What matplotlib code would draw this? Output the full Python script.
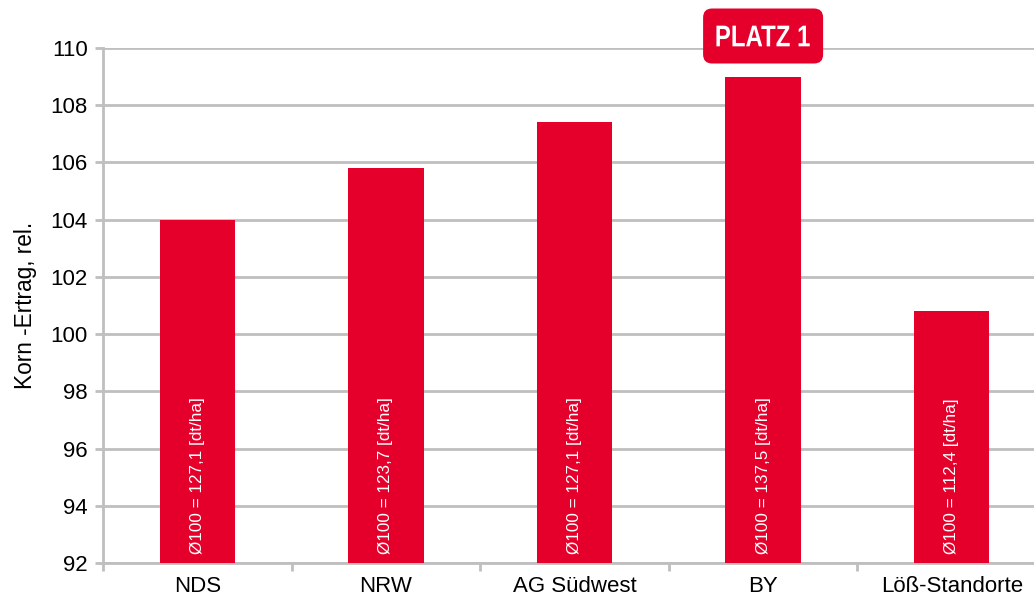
import matplotlib.pyplot as plt
from matplotlib.patches import FancyBboxPatch, PathPatch
from matplotlib.textpath import TextPath
from matplotlib.font_manager import FontProperties
from matplotlib.transforms import Affine2D, IdentityTransform

plt.rcParams['font.family'] = ['Liberation Sans', 'DejaVu Sans']

regions = ['NDS', 'NRW', 'AG Südwest', 'BY', 'Löß-Standorte']
yield_rel = [104.0, 105.8, 107.4, 109.0, 100.8]
yield_abs = ['127,1', '123,7', '127,1', '137,5', '112,4']
y_ticks = list(range(92, 111, 2))

RED = '#E4002B'
GRID = '#BFBFBF'

fig = plt.figure(figsize=(10.34, 5.95), dpi=100)
ax = fig.add_axes([103 / 1034, 32 / 595, 943 / 1034, 515 / 595])

x = list(range(len(regions)))
ax.bar(x, [v - 92 for v in yield_rel], bottom=92, width=0.4, color=RED, zorder=3)

for xi, a in zip(x, yield_abs):
    ax.text(xi, 92.3, f'Ø100 = {a} [dt/ha]', rotation=90, color='white',
            ha='center', va='bottom', fontsize=12.3, zorder=4)

ax.set_ylim(92, 110)
ax.set_xlim(-0.5, len(regions) - 0.5)
ax.set_yticks(y_ticks)
ax.set_yticklabels([str(t) for t in y_ticks], fontsize=16)
ax.yaxis.grid(True, color=GRID, linewidth=2, zorder=0)

ax.set_xticks(x)
ax.set_xticklabels(regions, fontsize=16)
ax.tick_params(axis='x', length=0, pad=9)
ax.set_xticks([i - 0.5 for i in range(len(regions) + 1)], minor=True)
ax.tick_params(axis='x', which='minor', length=6, width=2, color=GRID)
ax.tick_params(axis='y', length=6, width=2, color=GRID, pad=5)

for s in ['top', 'right']:
    ax.spines[s].set_visible(False)
for s in ['left', 'bottom']:
    ax.spines[s].set_color(GRID)
    ax.spines[s].set_linewidth(2)

ax.set_ylabel('Korn -Ertrag, rel.', fontsize=16.3, labelpad=10)

# "PLATZ 1" badge above the winner (drawn in pixel space)
best = yield_rel.index(max(yield_rel))
cx, top_px = ax.transData.transform((best, 110))
cy = top_px + 12
bw, bh = 120, 55
badge = FancyBboxPatch((cx - bw / 2, cy - bh / 2), bw, bh,
                       boxstyle='round,pad=0,rounding_size=9',
                       transform=IdentityTransform(), facecolor=RED,
                       edgecolor='none', zorder=5)
fig.add_artist(badge)

tp = TextPath((0, 0), 'PLATZ 1', size=30,
              prop=FontProperties(family='Liberation Sans', weight='bold'))
ext = tp.get_extents()
tr = (Affine2D().translate(-(ext.x0 + ext.x1) / 2, -(ext.y0 + ext.y1) / 2)
      .scale(0.8, 1).translate(cx, cy))
fig.add_artist(PathPatch(tr.transform_path(tp), facecolor='white',
                         edgecolor='none', transform=IdentityTransform(),
                         zorder=6))

fig.savefig('out.png', dpi=100)
